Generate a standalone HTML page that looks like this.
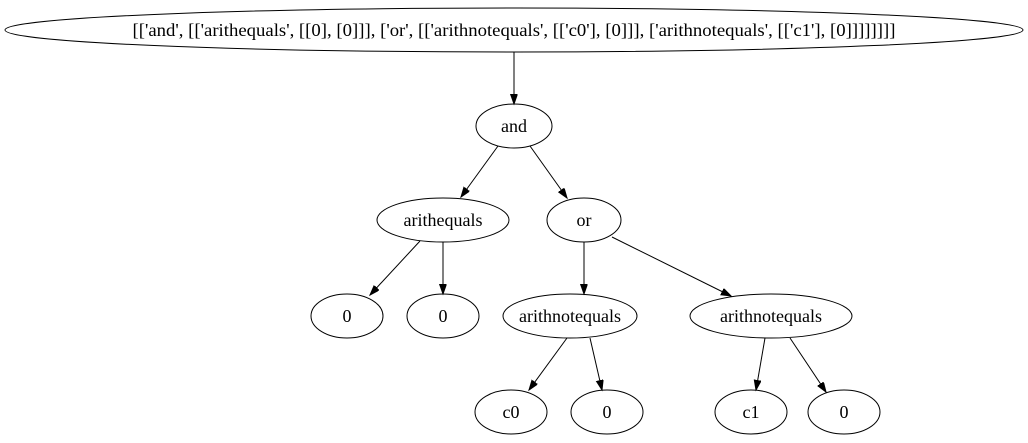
<!DOCTYPE html>
<html><head><meta charset="utf-8"><style>
html,body{margin:0;padding:0;background:#fff;}
svg{display:block;}
text{font-family:"Liberation Serif",serif;font-size:18px;fill:#000;}
</style></head><body>
<svg width="1028" height="443" viewBox="0 0 1028 443" xmlns="http://www.w3.org/2000/svg">
<defs>
<marker id="a" markerUnits="userSpaceOnUse" markerWidth="12" markerHeight="10" refX="10" refY="3.5" orient="auto">
<path d="M0,0 L10,3.5 L0,7 Z" fill="#000" stroke="#000"/>
</marker>
</defs>
<g fill="none" stroke="#000" stroke-width="1">
<ellipse cx="514" cy="30" rx="509" ry="22"/>
<ellipse cx="514" cy="126" rx="38" ry="22"/>
<ellipse cx="443" cy="220" rx="66" ry="22"/>
<ellipse cx="584" cy="220" rx="37" ry="22"/>
<ellipse cx="347" cy="316" rx="36" ry="22"/>
<ellipse cx="443" cy="316" rx="36" ry="22"/>
<ellipse cx="570" cy="316" rx="67" ry="22"/>
<ellipse cx="771" cy="316" rx="81" ry="22"/>
<ellipse cx="511" cy="412" rx="36" ry="22"/>
<ellipse cx="607" cy="412" rx="36" ry="22"/>
<ellipse cx="751" cy="412" rx="36" ry="22"/>
<ellipse cx="844" cy="412" rx="36" ry="22"/>
<line x1="514" y1="52" x2="514" y2="104" marker-end="url(#a)"/>
<line x1="498" y1="146" x2="461" y2="197" marker-end="url(#a)"/>
<line x1="530" y1="146" x2="567" y2="198" marker-end="url(#a)"/>
<line x1="420" y1="241" x2="370" y2="295" marker-end="url(#a)"/>
<line x1="443" y1="242" x2="443" y2="294" marker-end="url(#a)"/>
<line x1="584" y1="242" x2="584" y2="294" marker-end="url(#a)"/>
<line x1="612" y1="237" x2="731" y2="296" marker-end="url(#a)"/>
<line x1="567" y1="338" x2="529" y2="390" marker-end="url(#a)"/>
<line x1="590" y1="338" x2="602" y2="390" marker-end="url(#a)"/>
<line x1="765" y1="338" x2="756" y2="390" marker-end="url(#a)"/>
<line x1="790" y1="338" x2="826" y2="392" marker-end="url(#a)"/>
</g>
<g text-anchor="middle">
<text x="514" y="36" textLength="763" lengthAdjust="spacingAndGlyphs">[['and', [['arithequals', [[0], [0]]], ['or', [['arithnotequals', [['c0'], [0]]], ['arithnotequals', [['c1'], [0]]]]]]]]</text>
<text x="514" y="132">and</text>
<text x="443" y="226">arithequals</text>
<text x="584" y="226">or</text>
<text x="347" y="322">0</text>
<text x="443" y="322">0</text>
<text x="570" y="322">arithnotequals</text>
<text x="771" y="322">arithnotequals</text>
<text x="511" y="418">c0</text>
<text x="607" y="418">0</text>
<text x="751" y="418">c1</text>
<text x="844" y="418">0</text>
</g>
</svg>
</body></html>
